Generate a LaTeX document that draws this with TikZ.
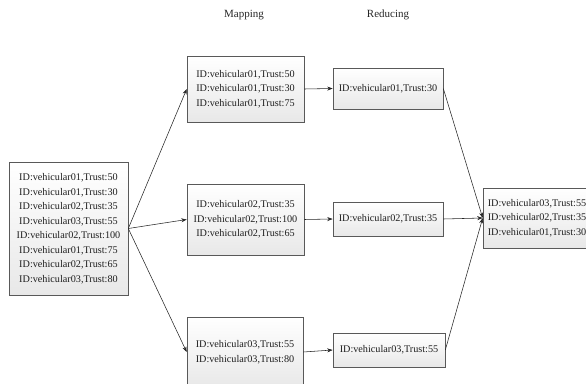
\documentclass[tikz,border=0pt]{standalone}
\usepackage{fontspec}
\setmainfont{Liberation Serif}
\usetikzlibrary{arrows.meta,shadows}
\begin{document}
\begin{tikzpicture}[x=1pt,y=-1pt,
  box/.style={draw=black!65, line width=0.6pt, top color=white, bottom color=black!9,
    drop shadow={shadow xshift=1.2pt, shadow yshift=-1.2pt, opacity=0.3, fill=black!60},
    align=center, inner sep=0pt, font=\fontsize{10.2}{14.5}\selectfont, text=black!88},
  title/.style={font=\fontsize{11}{13}\selectfont, text=black!85},
  arr/.style={-{Stealth[length=5.5pt,width=4pt]}, line width=0.55pt, draw=black!85}]
\useasboundingbox (0,0) rectangle (586,383);
\clip (0,0) rectangle (586,383);
\node[title] (tmap) at (244,15) {Mapping};
\node[title] (tred) at (388,15) {Reducing};
\node[box, minimum width=119pt, minimum height=133pt] (in) at (68.5,228.5)
 {ID:vehicular01,Trust:50\\ID:vehicular01,Trust:30\\ID:vehicular02,Trust:35\\ID:vehicular03,Trust:55\\ID:vehicular02,Trust:100\\ID:vehicular01,Trust:75\\ID:vehicular02,Trust:65\\ID:vehicular03,Trust:80};
\node[box, minimum width=117pt, minimum height=66pt] (m1) at (245.5,89)
 {ID:vehicular01,Trust:50\\ID:vehicular01,Trust:30\\ID:vehicular01,Trust:75};
\node[box, minimum width=117pt, minimum height=71pt] (m2) at (245.5,219.5)
 {ID:vehicular02,Trust:35\\ID:vehicular02,Trust:100\\ID:vehicular02,Trust:65};
\node[box, minimum width=116pt, minimum height=70pt] (m3) at (245,352)
 {ID:vehicular03,Trust:55\\ID:vehicular03,Trust:80};
\node[box, minimum width=110pt, minimum height=41pt] (r1) at (388,88.5) {ID:vehicular01,Trust:30};
\node[box, minimum width=110pt, minimum height=34pt] (r2) at (388,219) {ID:vehicular02,Trust:35};
\node[box, minimum width=112pt, minimum height=34pt] (r3) at (389,350) {ID:vehicular03,Trust:55};
\node[box, minimum width=108pt, minimum height=60pt] (out) at (537,218)
 {ID:vehicular03,Trust:55\\ID:vehicular02,Trust:35\\ID:vehicular01,Trust:30};
\draw[arr] (in.east) -- (m1.west);
\draw[arr] (in.east) -- (m2.west);
\draw[arr] (in.east) -- (m3.west);
\draw[arr] (m1.east) -- (r1.west);
\draw[arr] (m2.east) -- (r2.west);
\draw[arr] (m3.east) -- (r3.west);
\draw[arr] (r1.east) -- (out.west);
\draw[arr] (r2.east) -- (out.west);
\draw[arr] (r3.east) -- (out.west);
\end{tikzpicture}
\end{document}
